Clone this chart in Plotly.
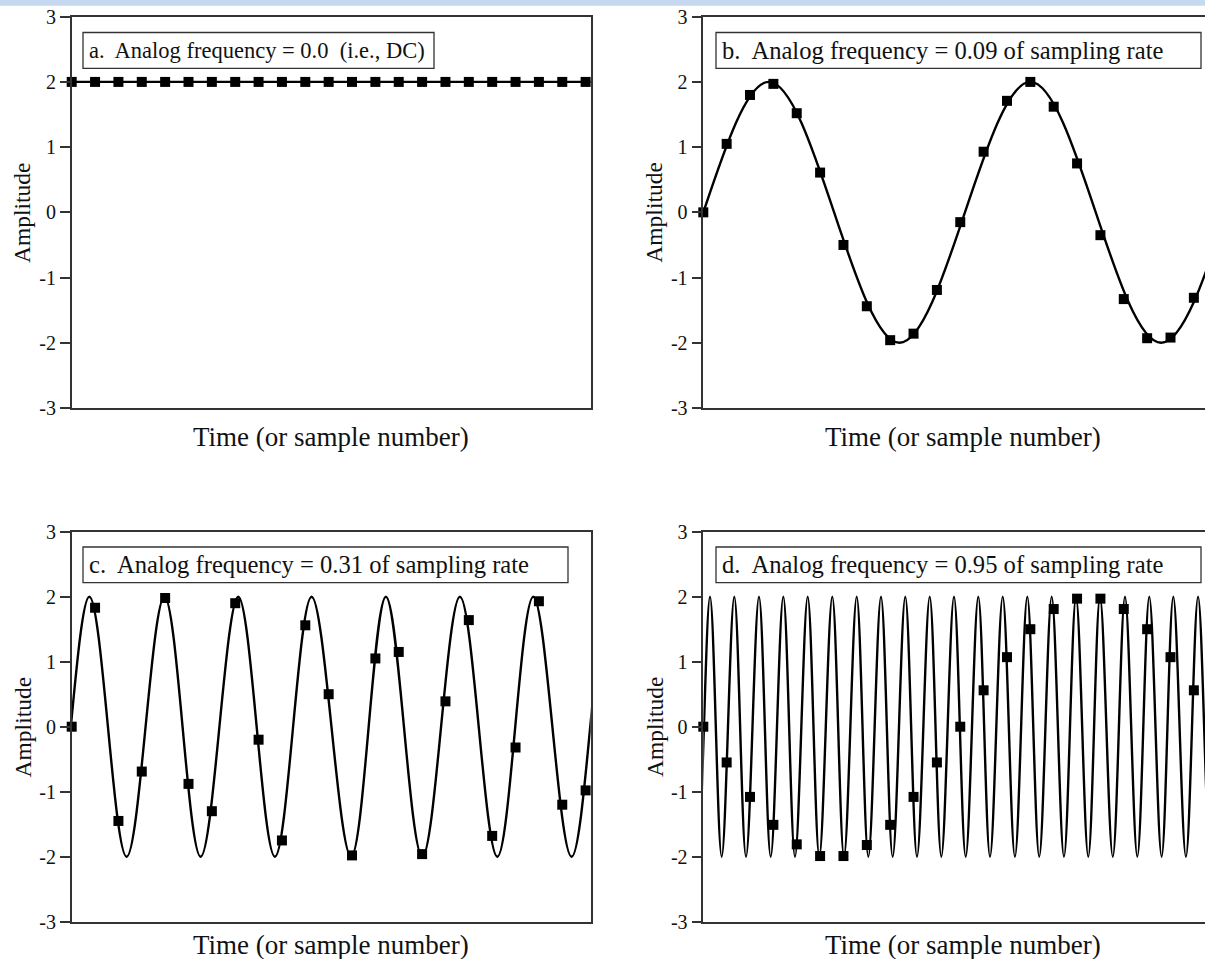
import plotly.graph_objects as go

W, H = 1205, 959

# ---------------- data ----------------
# sample markers (sample index, amplitude)
samples_a = list(range(23))
values_a = [2.0] * 23

samples_b = list(range(22))
values_b = [0.0, 1.05, 1.80, 1.97, 1.52, 0.61, -0.50, -1.44, -1.96, -1.86, -1.19,
            -0.15, 0.93, 1.71, 2.00, 1.62, 0.75, -0.35, -1.33, -1.93, -1.92, -1.31]

samples_c = list(range(23))
values_c = [0.0, 1.83, -1.45, -0.69, 1.98, -0.88, -1.30, 1.90, -0.20, -1.75, 1.56,
            0.50, -1.98, 1.05, 1.15, -1.96, 0.39, 1.64, -1.68, -0.32, 1.93, -1.20, -0.98]

samples_d = list(range(22))
values_d = [0.0, -0.55, -1.08, -1.51, -1.81, -1.99, -1.99, -1.82, -1.51, -1.08, -0.55,
            0.0, 0.56, 1.07, 1.50, 1.81, 1.97, 1.97, 1.81, 1.50, 1.07, 0.56]

# analog (continuous) signal: positions of its extremes
analog_a_x = [0.0, 22.22]
analog_a_y = [2.0, 2.0]

analog_b_x = [-8.4, -2.8, 2.8, 8.4, 14.0, 19.6, 25.2, 30.8]
analog_b_y = [2, -2, 2, -2, 2, -2, 2, -2]

analog_c_x = [-2.42, -0.83, 0.755, 2.35, 3.97, 5.52, 7.13, 8.70, 10.27, 11.96, 13.45,
              15.01, 16.62, 18.22, 19.76, 21.40, 22.99, 24.58]
analog_c_y = [2, -2, 2, -2, 2, -2, 2, -2, 2, -2, 2, -2, 2, -2, 2, -2, 2, -2]

analog_d_x = [-0.757, -0.235, 0.287, 0.787, 1.327, 1.828, 2.384, 2.885, 3.425, 3.925,
              4.469, 4.966, 5.522, 6.023, 6.567, 7.064, 7.607, 8.107, 8.647, 9.148,
              9.692, 10.189, 10.732, 11.233, 11.772, 12.273, 12.817, 13.34, 13.870,
              14.38, 14.914, 15.44, 15.955, 16.48, 16.982, 17.53, 18.052, 18.58,
              19.092, 19.62, 20.12, 20.66, 21.18, 21.70, 22.22]
analog_d_y = [2, -2, 2, -2, 2, -2, 2, -2, 2, -2, 2, -2, 2, -2, 2, -2, 2, -2, 2, -2, 2,
              -2, 2, -2, 2, -2, 2, -2, 2, -2, 2, -2, 2, -2, 2, -2, 2, -2, 2, -2, 2, -2,
              2, -2, 2]

panel_labels = [
    "a.  Analog frequency = 0.0  (i.e., DC)",
    "b.  Analog frequency = 0.09 of sampling rate",
    "c.  Analog frequency = 0.31 of sampling rate",
    "d.  Analog frequency = 0.95 of sampling rate",
]
y_ticks = [-3, -2, -1, 0, 1, 2, 3]
y_tick_text = ["-3", "-2", "-1", "0", "1", "2", "3"]
x_title = "Time (or sample number)"
y_title = "Amplitude"

# ---------------- layout helpers ----------------
FONT = "Liberation Serif, Times New Roman, serif"
INK = "#111111"
AXC = "#333333"


def px(x):
    return x / W


def py(y):
    return 1 - y / H


# pixel geometry of the four plot areas: (left, right, top, bottom)
L_LEFT, L_RIGHT = 71.7, 590.7
R_LEFT, R_RIGHT = 703.3, 1205.0
T_TOP, T_BOT = 16.7, 408.0
B_TOP, B_BOT = 531.7, 921.7
SAMPLE_PX = 23.36

panels = [
    dict(xs=samples_a, ys=values_a, ax=analog_a_x, ay=analog_a_y, shape="linear",
         box=(L_LEFT, L_RIGHT, T_TOP, T_BOT), right=False, title_gap=29),
    dict(xs=samples_b, ys=values_b, ax=analog_b_x, ay=analog_b_y, shape="spline",
         box=(R_LEFT, R_RIGHT, T_TOP, T_BOT), right=True, title_gap=29),
    dict(xs=samples_c, ys=values_c, ax=analog_c_x, ay=analog_c_y, shape="spline",
         box=(L_LEFT, L_RIGHT, B_TOP, B_BOT), right=False, title_gap=23.5),
    dict(xs=samples_d, ys=values_d, ax=analog_d_x, ay=analog_d_y, shape="spline",
         box=(R_LEFT, R_RIGHT, B_TOP, B_BOT), right=True, title_gap=23.5),
]

# label boxes (pixel): left, right, top, bottom, text-left, font size
label_boxes = [
    (83, 434, 32.5, 68.3, 87, 22.5),
    (716, 1201, 32.5, 68.3, 720, 24.6),
    (83, 568, 547, 582.7, 87, 24.6),
    (716, 1201, 547, 582.7, 720, 24.6),
]

fig = go.Figure()
layout = dict(
    template="none",
    width=W, height=H, autosize=False,
    margin=dict(l=0, r=0, t=0, b=0, pad=0, autoexpand=False),
    paper_bgcolor="white", plot_bgcolor="white",
    showlegend=False,
    font=dict(family=FONT, color=INK),
)
shapes = []
annotations = []

for i, p in enumerate(panels):
    n = i + 1
    xa = "x" if n == 1 else f"x{n}"
    ya = "y" if n == 1 else f"y{n}"
    l, r, t, b = p["box"]
    xrange_max = (r - l) / SAMPLE_PX

    fig.add_trace(go.Scatter(
        x=p["ax"], y=p["ay"], mode="lines",
        line=dict(color="black", width=2.4, shape=p["shape"], smoothing=1),
        xaxis=xa, yaxis=ya, hoverinfo="skip",
    ))
    fig.add_trace(go.Scatter(
        x=p["xs"], y=p["ys"], mode="markers",
        marker=dict(symbol="square", size=10, color="black", line=dict(width=0)),
        xaxis=xa, yaxis=ya, cliponaxis=False,
    ))

    layout["xaxis" if n == 1 else f"xaxis{n}"] = dict(
        domain=[px(l), px(r)], range=[0, xrange_max], anchor=ya,
        showline=True, linecolor=AXC, linewidth=1.5, mirror=True,
        showgrid=False, zeroline=False, showticklabels=False, ticks="",
        automargin=False, fixedrange=True,
    )
    layout["yaxis" if n == 1 else f"yaxis{n}"] = dict(
        domain=[py(b), py(t)], range=[-3, 3], anchor=xa,
        showline=True, linecolor=AXC, linewidth=1.5,
        mirror=False if p["right"] else True,
        showgrid=False, zeroline=False,
        tickmode="array", tickvals=y_ticks, ticktext=y_tick_text,
        ticks="outside", ticklen=10, tickwidth=1.5, tickcolor=AXC,
        tickfont=dict(family=FONT, size=20, color=INK),
        automargin=False, fixedrange=True,
    )

    # axis titles
    annotations.append(dict(
        text=x_title, xref="paper", yref="paper",
        x=px((l + l + 519) / 2), y=py(b + p["title_gap"]),
        xanchor="center", yanchor="middle", showarrow=False,
        font=dict(family=FONT, size=27, color=INK),
    ))
    annotations.append(dict(
        text=y_title, xref="paper", yref="paper",
        x=px(l - 49), y=py((t + b) / 2), textangle=-90,
        xanchor="center", yanchor="middle", showarrow=False,
        font=dict(family=FONT, size=23.5, color=INK),
    ))

    # panel label box
    bl, br, bt, bb, tl, fs = label_boxes[i]
    shapes.append(dict(
        type="rect", xref="paper", yref="paper",
        x0=px(bl), x1=px(br), y0=py(bb), y1=py(bt),
        line=dict(color=AXC, width=1.3), fillcolor="white", layer="above",
    ))
    annotations.append(dict(
        text=panel_labels[i], xref="paper", yref="paper",
        x=px(tl), y=py((bt + bb) / 2), xanchor="left", yanchor="middle",
        showarrow=False, font=dict(family=FONT, size=fs, color=INK),
    ))

# light blue strip across the very top
shapes.append(dict(
    type="rect", xref="paper", yref="paper", x0=0, x1=1, y0=py(5.7), y1=1,
    line=dict(width=0), fillcolor="#c6d9f1", layer="above",
))

layout["shapes"] = shapes
layout["annotations"] = annotations
fig.update_layout(**layout)

fig.write_html(
    "out.html",
    config={"displayModeBar": False},
    post_script="document.body.style.margin='0';"
                "document.documentElement.style.overflow='hidden';",
)
